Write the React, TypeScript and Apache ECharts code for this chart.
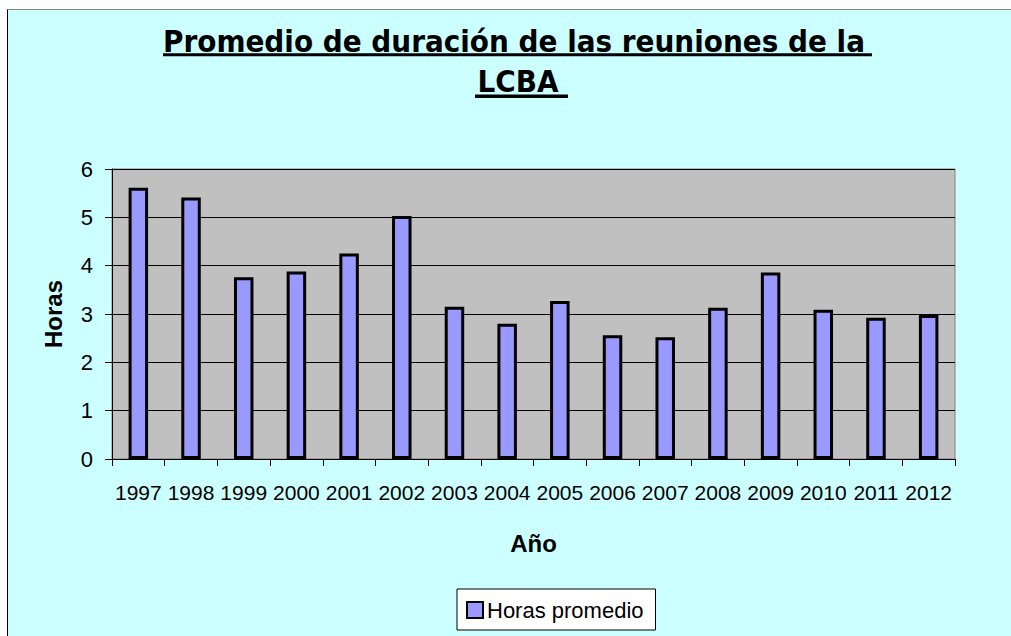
import React, { useEffect, useRef } from "react";
import * as echarts from "echarts";

const years = ["1997", "1998", "1999", "2000", "2001", "2002", "2003", "2004", "2005", "2006", "2007", "2008", "2009", "2010", "2011", "2012"];
const horasPromedio = [5.61, 5.41, 3.76, 3.88, 4.25, 5.03, 3.15, 2.8, 3.27, 2.56, 2.52, 3.13, 3.86, 3.09, 2.92, 2.98];
const titleLines = ["Promedio de duración de las reuniones de la", "LCBA"];
const seriesName = "Horas promedio";
const xName = "Año";
const yName = "Horas";
const yMin = 0;
const yMax = 6;
const yInterval = 1;

const LABEL_FONT = "'Liberation Sans', Arial, sans-serif";
const TITLE_FONT = "'DejaVu Sans Condensed', 'DejaVu Sans', sans-serif";

export default function App() {
  const ref = useRef<HTMLDivElement>(null);
  useEffect(() => {
    if (!ref.current) return;
    const chart = echarts.init(ref.current, undefined, { renderer: "svg" });
    chart.setOption({
      animation: false,
      backgroundColor: "transparent",
      graphic: [
        {
          type: "text",
          x: 514,
          y: 41,
          style: {
            text: titleLines[0],
            font: `bold 31px ${TITLE_FONT}`,
            fill: "#000",
            textAlign: "center",
            textVerticalAlign: "middle",
          },
        },
        {
          type: "text",
          x: 518,
          y: 81,
          style: {
            text: titleLines[1],
            font: `bold 31px ${TITLE_FONT}`,
            fill: "#000",
            textAlign: "center",
            textVerticalAlign: "middle",
          },
        },
        {
          type: "line",
          shape: { x1: 163, y1: 54.7, x2: 872, y2: 54.7 },
          style: { stroke: "#000", lineWidth: 3 },
        },
        {
          type: "line",
          shape: { x1: 475, y1: 96.3, x2: 568, y2: 96.3 },
          style: { stroke: "#000", lineWidth: 3.5 },
        },
      ],
      legend: {
        data: [seriesName],
        left: 457,
        top: 589,
        backgroundColor: "#fff",
        borderColor: "#000",
        borderWidth: 1,
        borderRadius: 0,
        padding: [10, 12, 9, 9],
        itemWidth: 16,
        itemHeight: 16,
        icon: "rect",
        itemStyle: { borderColor: "#000", borderWidth: 2 },
        textStyle: { fontFamily: LABEL_FONT, fontSize: 22, color: "#000", padding: [0, 0, 0, -1] },
      },
      grid: {
        left: 112,
        top: 169,
        width: 843,
        height: 290,
        show: true,
        backgroundColor: "#C0C0C0",
        borderColor: "#808080",
        borderWidth: 1,
      },
      xAxis: {
        type: "category",
        data: years,
        name: xName,
        nameLocation: "middle",
        nameGap: 72,
        nameTextStyle: { fontFamily: LABEL_FONT, fontSize: 24, fontWeight: "bold", color: "#000" },
        axisLine: { show: true, lineStyle: { color: "#000", width: 1 } },
        axisTick: { show: true, alignWithLabel: false, length: 7, lineStyle: { color: "#000" } },
        axisLabel: { fontFamily: LABEL_FONT, fontSize: 21, color: "#000", margin: 23, interval: 0 },
        splitLine: { show: false },
      },
      yAxis: {
        type: "value",
        min: yMin,
        max: yMax,
        interval: yInterval,
        name: yName,
        nameLocation: "middle",
        nameGap: 47,
        nameTextStyle: { fontFamily: LABEL_FONT, fontSize: 24, fontWeight: "bold", color: "#000" },
        axisLine: { show: true, lineStyle: { color: "#000", width: 1 } },
        axisTick: { show: true, length: 7, lineStyle: { color: "#000" } },
        axisLabel: { fontFamily: LABEL_FONT, fontSize: 22, color: "#000", margin: 19 },
        splitLine: { show: true, lineStyle: { color: "#000", width: 1 } },
      },
      series: [
        {
          name: seriesName,
          type: "bar",
          data: horasPromedio,
          barWidth: 19.5,
          itemStyle: { color: "#9999FF", borderColor: "#000", borderWidth: 3 },
        },
      ],
    });
    return () => chart.dispose();
  }, []);
  return (
    <div style={{ position: "fixed", left: 0, top: 0, width: 1011, height: 636, background: "#fff" }}>
      <div
        style={{
          position: "absolute",
          left: 7,
          top: 9,
          width: 1010,
          height: 640,
          background: "#CCFFFF",
          borderLeft: "1px solid #000",
          borderTop: "1px solid #888",
        }}
      />
      <div ref={ref} style={{ position: "absolute", left: 0, top: 0, width: 1011, height: 636 }} />
    </div>
  );
}
